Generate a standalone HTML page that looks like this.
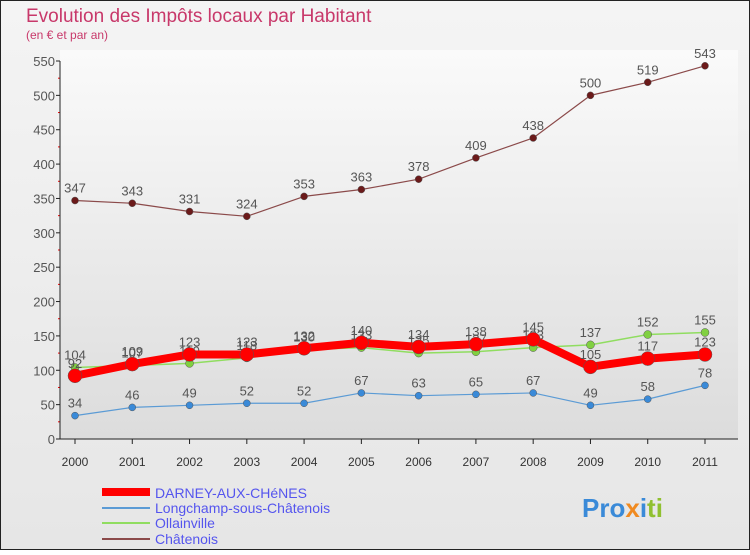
<!DOCTYPE html>
<html><head><meta charset="utf-8"><style>
body{margin:0;width:750px;height:550px;overflow:hidden;font-family:"Liberation Sans",sans-serif}
svg text{font-family:"Liberation Sans",sans-serif}
</style></head><body>
<svg width="750" height="550" viewBox="0 0 750 550">
<defs><linearGradient id="bg" x1="0" y1="0" x2="0" y2="1"><stop offset="0" stop-color="#fafafa"/><stop offset="1" stop-color="#dcdcdc"/></linearGradient>
<linearGradient id="bg2" x1="0" y1="0" x2="0" y2="1"><stop offset="0" stop-color="#f4f4f4"/><stop offset="1" stop-color="#e6e6e6"/></linearGradient></defs>
<rect x="0" y="0" width="750" height="550" fill="url(#bg2)" stroke="#222" stroke-width="2"/>
<text x="26" y="22" font-size="19" fill="#c8386a">Evolution des Impôts locaux par Habitant</text>
<text x="26" y="39" font-size="12" fill="#c8386a">(en € et par an)</text>
<g id="axes"></g><g id="series"></g>
<g>
<line x1="102" y1="492" x2="150" y2="492" stroke="#ff0000" stroke-width="8"/>
<text x="155" y="498" font-size="14" fill="#5555ee">DARNEY-AUX-CHéNES</text>
<line x1="102" y1="508" x2="150" y2="508" stroke="#5b9bd5" stroke-width="2"/>
<text x="155" y="513" font-size="14" fill="#5555ee">Longchamp-sous-Châtenois</text>
<line x1="102" y1="523" x2="150" y2="523" stroke="#90dd60" stroke-width="2"/>
<text x="155" y="528" font-size="14" fill="#5555ee">Ollainville</text>
<line x1="102" y1="539" x2="150" y2="539" stroke="#8b4a4a" stroke-width="2"/>
<text x="155" y="544" font-size="14" fill="#5555ee">Châtenois</text>
</g>
<text x="582" y="517" font-size="26" font-weight="bold"><tspan fill="#3a8ad8">Pro</tspan><tspan fill="#f08a20">x</tspan><tspan fill="#3a8ad8">i</tspan><tspan fill="#90c030">ti</tspan></text>
</svg>
<script>
const years=["2000","2001","2002","2003","2004","2005","2006","2007","2008","2009","2010","2011"];
const yTicks=[0,50,100,150,200,250,300,350,400,450,500,550];
const chatenois=[347,343,331,324,353,363,378,409,438,500,519,543];
const darney=[92,109,123,123,132,140,134,138,145,105,117,123];
const ollainville=[104,107,110,118,130,133,125,127,133,137,152,155];
const longchamp=[34,46,49,52,52,67,63,65,67,49,58,78];
const NS="http://www.w3.org/2000/svg";
const X=i=>75+i*(630/11);
const Y=v=>439-v*(378/550);
function mk(tag,attrs,parent,txt){const e=document.createElementNS(NS,tag);for(const k in attrs)e.setAttribute(k,attrs[k]);if(txt!=null)e.textContent=txt;parent.appendChild(e);return e;}
const ax=document.getElementById('axes'),sr=document.getElementById('series');
const plot=mk('rect',{x:60,y:50,width:678,height:389,fill:'url(#bg)'},ax);


yTicks.forEach(v=>{
 const t=mk('text',{x:55,y:Y(v)+5,'font-size':13,fill:'#555','text-anchor':'end'},ax,v);
 
 
 mk('line',{x1:56,x2:60,y1:Y(v),y2:Y(v),stroke:'#222'},ax);
 if(v<550)mk('line',{x1:58,x2:60,y1:Y(v+25),y2:Y(v+25),stroke:'#e00'},ax);
});
const yl=mk('line',{x1:60,x2:60,y1:Y(550),y2:439,stroke:'#222'},ax);


const xl=mk('line',{x1:60,x2:738,y1:439,y2:439,stroke:'#222'},ax);


years.forEach((y,i)=>{
 mk('line',{x1:X(i),x2:X(i),y1:439,y2:444,stroke:'#222'},ax);
 const t=mk('text',{x:X(i),y:466,'font-size':12,fill:'#333','text-anchor':'middle'},ax,y);
 
 
});
function series(name,vals,color,w,r,dot){
 const g=mk('g',{},sr);
 
 
 const l=mk('polyline',{points:vals.map((v,i)=>X(i)+','+Y(v)).join(' '),fill:'none',stroke:color,'stroke-width':w,'stroke-linejoin':'round'},g);
 
 
 vals.forEach((v,i)=>{
  const c=mk('circle',{cx:X(i),cy:Y(v),r:r,fill:dot,stroke:'#555','stroke-width':0.5},g);
  
  
  const t=mk('text',{x:X(i),y:Y(v)-8,'font-size':13,fill:'#555','text-anchor':'middle'},g,v);
  
  
 });
}
series('chatenois',chatenois,'#8b4a4a',1.2,3.5,'#6b1a1a');
series('longchamp',longchamp,'#5b9bd5',1.2,3.5,'#3a8ad8');
series('ollainville',ollainville,'#90dd60',1.5,4,'#80d040');
series('darney',darney,'#ff0000',8,7,'#ff0000');
</script>
</body></html>
